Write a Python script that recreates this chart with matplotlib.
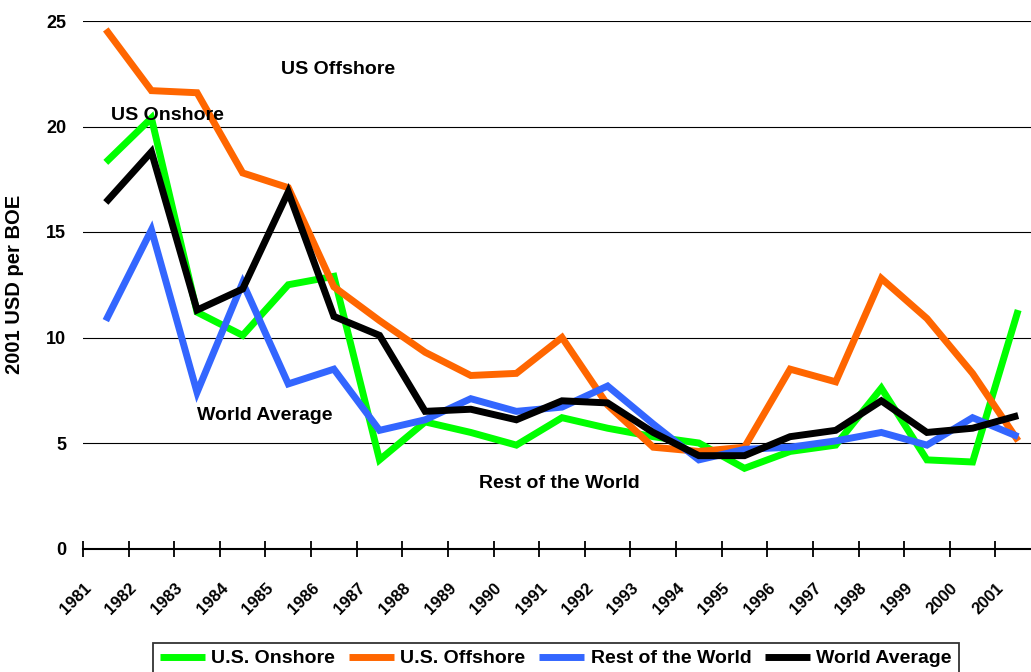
import matplotlib
matplotlib.use('Agg')
import matplotlib.pyplot as plt
from matplotlib.transforms import ScaledTranslation
import numpy as np

plt.rcParams['font.family'] = ['Liberation Sans', 'DejaVu Sans']
plt.rcParams['font.weight'] = 'bold'

years = [str(y) for y in range(1981, 2002)]

# 2001 USD per BOE
us_onshore = [18.3, 20.4, 11.2, 10.1, 12.5, 12.9, 4.2, 6.0, 5.5, 4.9, 6.2, 5.7, 5.3,
              5.0, 3.8, 4.6, 4.9, 7.6, 4.2, 4.1, 11.3]
us_offshore = [24.6, 21.7, 21.6, 17.8, 17.1, 12.4, 10.8, 9.3, 8.2, 8.3, 10.0, 6.8, 4.8,
               4.6, 4.8, 8.5, 7.9, 12.8, 10.9, 8.3, 5.1]
rest_world = [10.8, 15.1, 7.4, 12.6, 7.8, 8.5, 5.6, 6.1, 7.1, 6.5, 6.7, 7.7, 5.9,
              4.2, 4.7, 4.8, 5.1, 5.5, 4.9, 6.2, 5.3]
world_avg = [16.4, 18.8, 11.3, 12.3, 16.9, 11.0, 10.1, 6.5, 6.6, 6.1, 7.0, 6.9, 5.5,
             4.4, 4.4, 5.3, 5.6, 7.0, 5.5, 5.7, 6.3]

series = [
    ('U.S. Onshore', us_onshore, '#00FF00'),
    ('U.S. Offshore', us_offshore, '#FF6600'),
    ('Rest of the World', rest_world, '#3366FF'),
    ('World Average', world_avg, '#000000'),
]

# 图中文字标注 (像素位置)
labels = [('US Offshore', 338, 69), ('US Onshore', 167, 116),
          ('World Average', 265, 416), ('Rest of the World', 559, 484)]

fig = plt.figure(figsize=(10.31, 6.72), dpi=100)
ax = fig.add_axes([83 / 1031, 123.5 / 672, 958 / 1031, 527.5 / 672])

x = np.arange(len(years))
for i, (name, vals, col) in enumerate(series):
    ax.plot(x, vals, color=col, lw=5, label=name, zorder=3 + i,
            solid_joinstyle='miter', solid_capstyle='butt')

ax.set_xlim(-0.5, len(years) - 0.5)
ax.set_ylim(0, 25)
ax.set_yticks([0, 5, 10, 15, 20, 25])
ax.set_yticklabels(['0', '5', '10', '15', '20', '25'], fontsize=13, fontweight='bold')
ax.tick_params(axis='y', length=0, pad=12)
ax.yaxis.grid(True, color='black', lw=0.8)
ax.set_axisbelow(True)
for s in ['top', 'right', 'left']:
    ax.spines[s].set_visible(False)
ax.spines['bottom'].set_linewidth(1.5)

# 刻度线在类别之间, 标签在类别中心
ax.set_xticks(np.arange(-0.5, len(years), 1.0))
ax.set_xticklabels([])
ax.tick_params(axis='x', which='major', direction='inout', length=12, width=1.3)
ax.set_xticks(x, minor=True)
ax.set_xticklabels(years, minor=True, rotation=45, ha='right', va='center',
                   rotation_mode='anchor', fontsize=12, fontweight='bold')
ax.tick_params(axis='x', which='minor', length=0, pad=27)
shift = ScaledTranslation(-17 / 100, 0, fig.dpi_scale_trans)
for lab in ax.xaxis.get_minorticklabels():
    lab.set_transform(lab.get_transform() + shift)

ax.set_ylabel('2001 USD per BOE', fontsize=14.5, fontweight='bold')
ax.yaxis.set_label_coords(-59 / 958, 0.5)

for txt, px, py in labels:
    fig.text(px / 1031, 1 - py / 672, txt, fontsize=14, fontweight='bold',
             ha='center', va='center')

leg = fig.legend(loc='upper left', bbox_to_anchor=(153 / 1031, 1 - 643 / 672),
                 ncol=4, frameon=True, fancybox=False,
                 prop={'size': 14, 'weight': 'bold'},
                 handlelength=2.3, handletextpad=0.35, columnspacing=0.7,
                 borderpad=0.35, borderaxespad=0)
leg.get_frame().set_edgecolor('black')
leg.get_frame().set_linewidth(1.3)
for h in leg.get_lines():
    h.set_linewidth(5)

fig.savefig('out.png', dpi=100)
